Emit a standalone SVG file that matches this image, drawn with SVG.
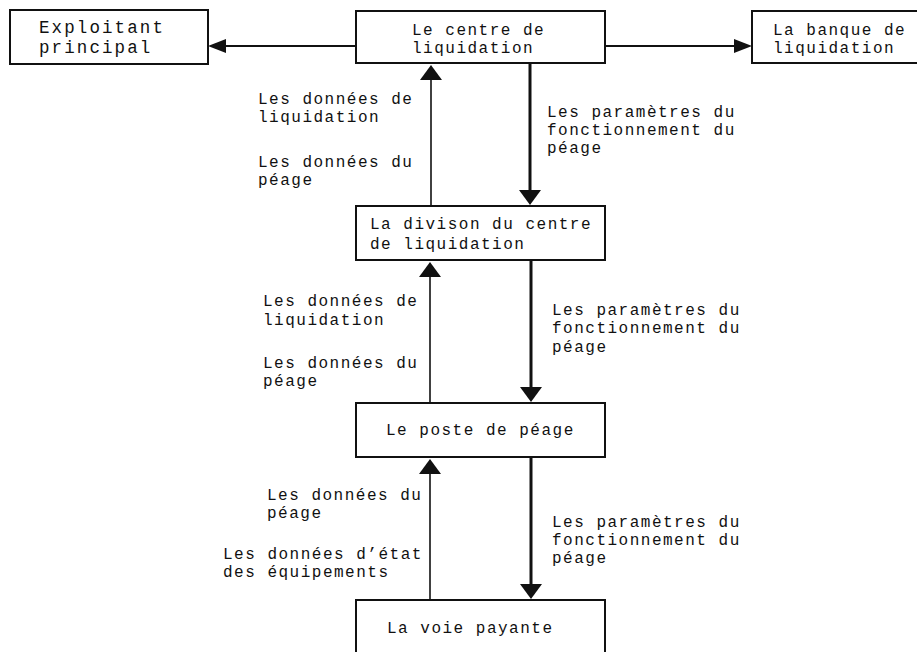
<svg xmlns="http://www.w3.org/2000/svg" width="917" height="652" viewBox="0 0 917 652">
<defs>
<style>
.box{fill:#fff;stroke:#111;stroke-width:2}
.t{font-family:"Liberation Mono","DejaVu Sans Mono",monospace;font-size:16px;letter-spacing:1.5px;fill:#111}
.big{font-size:17.5px;letter-spacing:2.1px}
.h{stroke:#111;stroke-width:2;fill:none}
.up{stroke:#111;stroke-width:1.6;fill:none}
.dn{stroke:#111;stroke-width:3;fill:none}
</style>
<marker id="ah" viewBox="0 -7 18 14" refX="0" refY="0" markerWidth="18" markerHeight="14" markerUnits="userSpaceOnUse" orient="auto">
<path d="M0,-7 L18,0 L0,7 z" fill="#111"/>
</marker>
<marker id="av" viewBox="0 -11 15 22" refX="0" refY="0" markerWidth="15" markerHeight="22" markerUnits="userSpaceOnUse" orient="auto">
<path d="M0,-11 L15,0 L0,11 z" fill="#111"/>
</marker>
</defs>
<rect width="917" height="652" fill="#fff"/>

<g id="connectors">
<line class="h" x1="356" y1="46" x2="226" y2="46" marker-end="url(#ah)"/>
<line class="h" x1="605" y1="46" x2="734" y2="46" marker-end="url(#ah)"/>
<line class="up" x1="431" y1="206" x2="431" y2="80" marker-end="url(#av)"/>
<line class="dn" x1="530" y1="64" x2="530" y2="190" marker-end="url(#av)"/>
<line class="up" x1="430" y1="403" x2="430" y2="277" marker-end="url(#av)"/>
<line class="dn" x1="531" y1="261" x2="531" y2="387" marker-end="url(#av)"/>
<line class="up" x1="430" y1="600" x2="430" y2="474" marker-end="url(#av)"/>
<line class="dn" x1="531" y1="458" x2="531" y2="584" marker-end="url(#av)"/>
<g id="labels">
<text class="t" x="258" y="104">Les données de</text>
<text class="t" x="258" y="122">liquidation</text>
<text class="t" x="258" y="167">Les données du</text>
<text class="t" x="258" y="185">péage</text>
<text class="t" x="547" y="117">Les paramètres du</text>
<text class="t" x="547" y="135">fonctionnement du</text>
<text class="t" x="547" y="153">péage</text>
<text class="t" x="263" y="306">Les données de</text>
<text class="t" x="263" y="325">liquidation</text>
<text class="t" x="263" y="368">Les données du</text>
<text class="t" x="263" y="386">péage</text>
<text class="t" x="552" y="315">Les paramètres du</text>
<text class="t" x="552" y="333">fonctionnement du</text>
<text class="t" x="552" y="352">péage</text>
<text class="t" x="267" y="500">Les données du</text>
<text class="t" x="267" y="518">péage</text>
<text class="t" x="223" y="559">Les données d’état</text>
<text class="t" x="223" y="577">des équipements</text>
<text class="t" x="552" y="527">Les paramètres du</text>
<text class="t" x="552" y="545">fonctionnement du</text>
<text class="t" x="552" y="563">péage</text>
</g>
</g>

<g id="exploitant">
<rect class="box" x="10" y="10" width="198" height="54"/>
<text class="t big" x="39" y="33">Exploitant</text>
<text class="t big" x="39" y="53">principal</text>
</g>
<g id="centre">
<rect class="box" x="356" y="11" width="249" height="52"/>
<text class="t" x="412" y="35">Le centre de</text>
<text class="t" x="412" y="53">liquidation</text>
</g>
<g id="banque">
<rect class="box" x="752" y="11" width="180" height="52"/>
<text class="t" x="773" y="35">La banque de</text>
<text class="t" x="773" y="53">liquidation</text>
</g>
<g id="division">
<rect class="box" x="356" y="206" width="249" height="54"/>
<text class="t" x="370" y="229">La divison du centre</text>
<text class="t" x="370" y="249">de liquidation</text>
</g>
<g id="poste">
<rect class="box" x="356" y="403" width="249" height="54"/>
<text class="t" x="386" y="435">Le poste de péage</text>
</g>
<g id="voie">
<rect class="box" x="356" y="600" width="249" height="60"/>
<text class="t" x="387" y="633">La voie payante</text>
</g>
</svg>
